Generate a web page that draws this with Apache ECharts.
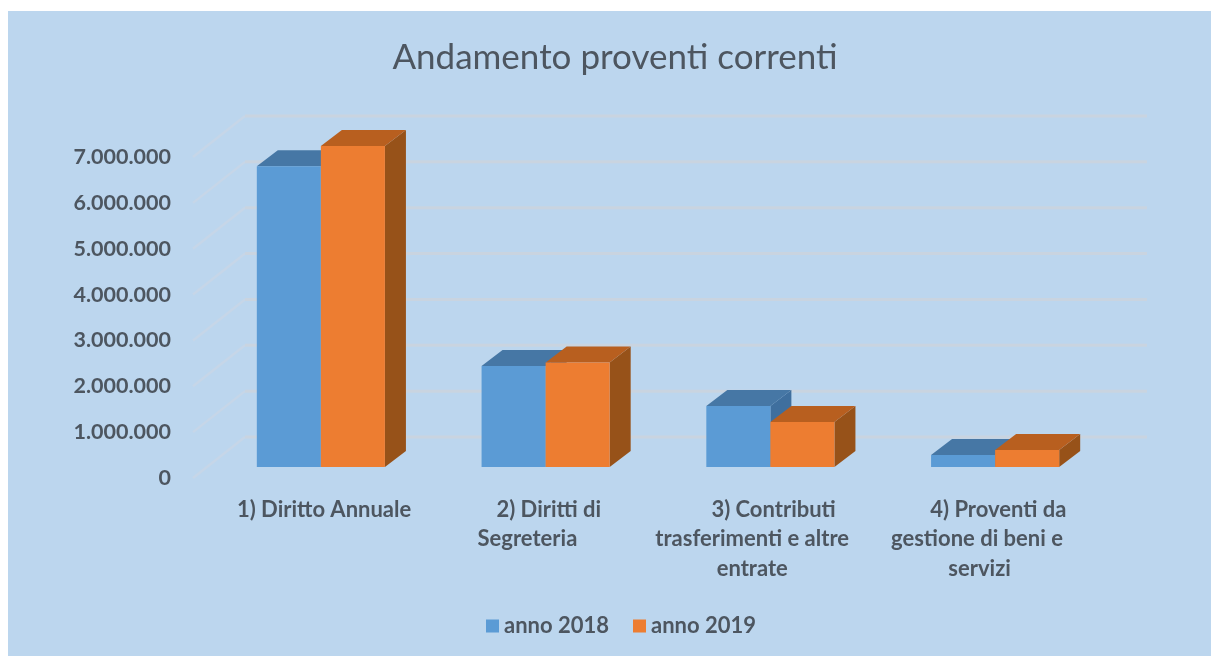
<!DOCTYPE html>
<html>
<head>
<meta charset="utf-8">
<title>Andamento proventi correnti</title>
<script src="https://cdn.jsdelivr.net/npm/echarts@6/dist/echarts.min.js"></script>
<style>
    html, body { margin: 0; padding: 0; background: #fff; }
    #chart { width: 1211px; height: 656px; }
</style>
</head>
<body>
<div id="chart"></div>
<script>
// leading/trailing spaces reproduce the odd line offsets of the original labels
const categories = [
    '       1) Diritto Annuale',
    '       2) Diritti di\nSegreteria ',
    '       3) Contributi\ntrasferimenti e altre \nentrate ',
    '       4) Proventi da\ngestione di beni e \nservizi'
];
const anno2018 = [6560000, 2200000, 1330000, 260000];
const anno2019 = [7000000, 2280000, 980000, 370000];
const ticks = [0, 1000000, 2000000, 3000000, 4000000, 5000000, 6000000, 7000000];

const font = 'Lato';
const textColor = '#4d5660';

const formatTick = (v) => String(v).replace(/\B(?=(\d{3})+$)/g, '.');

// floor and wall lines: front edge -> back wall -> along the back wall
const renderWall = (params, api) => {
    const grid = params.coordSys;
    const y = api.coord([0, api.value(0)])[1];
    return {
        type: 'group',
        children: [
            {
                type: 'line',
                shape: { x1: grid.x, y1: y, x2: grid.x + 52, y2: y - 41 },
                style: { stroke: '#c6d6e8', lineWidth: 2.5 }
            },
            {
                type: 'line',
                shape: { x1: grid.x + 52, y1: y - 41, x2: grid.x + grid.width + 55, y2: y - 41 },
                style: { stroke: '#c9d4e0', lineWidth: 3 }
            }
        ]
    };
};

// box drawn from three faces, offset into the chart's depth
const makeBar = (side, front, top, dark) => (params, api) => {
    const band = api.size([1, 0])[0];
    const barW = band * 0.285;
    const cat = api.value(0);
    const hi = api.coord([cat, api.value(1)]);
    const lo = api.coord([cat, 0]);
    const x0 = hi[0] + 15.5 + (side === 0 ? -barW : 0);
    const x1 = x0 + barW;
    const yTop = hi[1] - 11;
    const yBase = lo[1] - 11;
    const dx = 21, dy = 16;
    return {
        type: 'group',
        children: [
            { type: 'polygon', shape: { points: [[x1, yTop], [x1 + dx, yTop - dy], [x1 + dx, yBase - dy], [x1, yBase]] }, style: { fill: dark } },
            { type: 'polygon', shape: { points: [[x0, yTop], [x0 + dx, yTop - dy], [x1 + dx, yTop - dy], [x1, yTop]] }, style: { fill: top } },
            { type: 'rect', shape: { x: x0, y: yTop, width: barW, height: yBase - yTop }, style: { fill: front } }
        ]
    };
};

const myChart = echarts.init(document.getElementById('chart'));
myChart.setOption({
    backgroundColor: '#ffffff',
    animation: false,
    graphic: [{
        type: 'rect',
        z: -10,
        shape: { x: 8, y: 11, width: 1203, height: 645 },
        style: { fill: '#bcd6ee' }
    }],
    title: {
        text: 'Andamento proventi correnti',
        left: 610,
        top: 35,
        textAlign: 'center',
        textStyle: { fontFamily: font, fontSize: 35, fontWeight: 'normal', color: textColor }
    },
    legend: {
        data: ['anno 2018', 'anno 2019'],
        left: 481,
        top: 610,
        icon: 'rect',
        itemWidth: 13,
        itemHeight: 13,
        itemGap: 24,
        textStyle: { fontFamily: font, fontSize: 22, fontWeight: 'bold', color: textColor }
    },
    grid: { left: 193, top: 157, width: 899, height: 321 },
    xAxis: {
        type: 'category',
        data: categories,
        axisLine: { show: false },
        axisTick: { show: false },
        axisLabel: {
            interval: 0,
            margin: 17,
            lineHeight: 29.5,
            fontFamily: font,
            fontSize: 22,
            fontWeight: 'bold',
            color: textColor
        }
    },
    yAxis: {
        type: 'value',
        min: 0,
        max: 7000000,
        interval: 1000000,
        splitLine: { show: false },
        axisLine: { show: false },
        axisTick: { show: false },
        axisLabel: {
            margin: 22,
            padding: [0, 0, 3, 0],
            fontFamily: font,
            fontSize: 21.5,
            fontWeight: 'bold',
            color: textColor,
            formatter: formatTick
        }
    },
    series: [
        {
            name: 'pareti',
            type: 'custom',
            renderItem: renderWall,
            encode: { y: 0 },
            data: ticks.map(v => [v]),
            silent: true,
            z: 1
        },
        {
            name: 'anno 2018',
            type: 'custom',
            itemStyle: { color: '#5b9bd5' },
            renderItem: makeBar(0, '#5b9bd5', '#4677a5', '#3f6f9e'),
            encode: { x: 0, y: 1 },
            data: anno2018.map((v, i) => [i, v]),
            z: 2
        },
        {
            name: 'anno 2019',
            type: 'custom',
            itemStyle: { color: '#ed7d31' },
            renderItem: makeBar(1, '#ed7d31', '#b85f1f', '#975219'),
            encode: { x: 0, y: 1 },
            data: anno2019.map((v, i) => [i, v]),
            z: 3
        }
    ]
});
</script>
</body>
</html>
